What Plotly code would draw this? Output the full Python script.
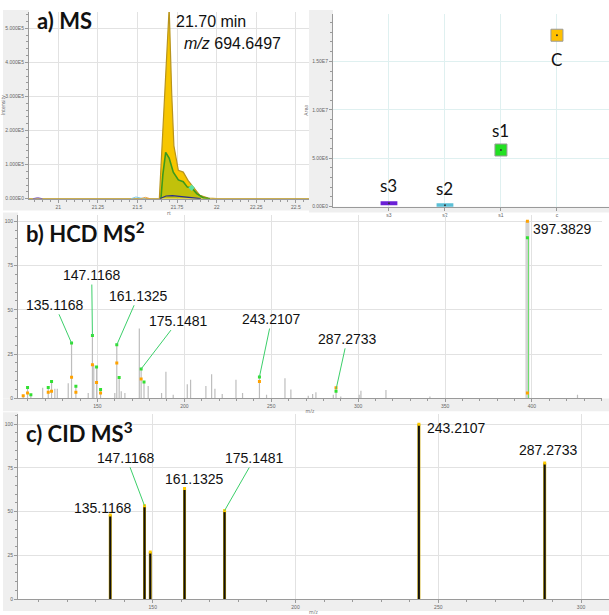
import plotly.graph_objects as go

W, H = 609, 615

# ---------- a) extracted ion chromatogram of m/z 694.6497 ----------
rt_gold = [20.80, 21.60, 21.638, 21.653, 21.674, 21.700, 21.716, 21.730, 21.758, 21.789,
           21.820, 21.852, 21.894, 21.947, 22.00, 22.60]
int_gold = [0, 0, 0, 1.36e5, 3.4e5, 5.6e5, 3.1e5, 1.55e5, 0.83e5, 0.78e5,
            0.53e5, 0.34e5, 0.10e5, 0.02e5, 0, 0]

rt_green = [21.648, 21.660, 21.678, 21.700, 21.726, 21.758, 21.789, 21.815, 21.842,
            21.874, 21.915, 21.958]
int_green = [0, 0.7e5, 1.36e5, 1.19e5, 0.78e5, 0.55e5, 0.50e5, 0.34e5, 0.32e5,
             0.15e5, 0.03e5, 0]

rt_blue = [21.64, 21.68, 21.72, 21.76, 21.80, 21.85, 21.90]
int_blue = [0, 0.08e5, 0.09e5, 0.07e5, 0.05e5, 0.03e5, 0]

rt_noise1 = [21.46, 21.49, 21.52, 21.55]
int_noise1 = [0, 0.05e5, 0.02e5, 0]
rt_noise2 = [21.52, 21.55, 21.58]
int_noise2 = [0, 0.04e5, 0]
rt_noise3 = [20.84, 20.87, 20.90]
int_noise3 = [0, 0.03e5, 0]

# ---------- a) peak area per sample ----------
samples = ["s3", "s2", "s1", "c"]
sample_labels = ["s3", "s2", "s1", "C"]
areas = [0.35e6, 0.15e6, 5.85e6, 1.77e7]
sample_colors = ["#6a1fd6", "#5bbfd6", "#22e022", "#ffc000"]

# ---------- b) HCD MS2 spectrum ----------
hcd_mz = [107.3, 109.8, 111.7, 118.5, 121.7, 123.6, 125.5, 126.9, 133.2, 135.1168,
          137.6, 144.7, 147.1168, 147.9, 149.5, 151.8, 160.0, 161.1325, 162.5, 163.7,
          165.8, 174.1, 175.1481, 176.8, 179.2, 186.9, 189.4, 193.6, 201.7, 203.6,
          212.4, 215.7, 217.6, 221.8, 229.7, 233.5, 243.2107, 247.3, 257.9, 261.3,
          271.3, 273.8, 275.7, 285.7, 287.2733, 290.0, 300.6, 301.6, 316.0, 341.3,
          397.3829, 426.2]
hcd_int = [1.5, 6.2, 2.5, 6.0, 6.2, 9.5, 5.5, 5.5, 8.5, 31.2,
           7.0, 3.0, 35.5, 19.0, 17.7, 5.0, 3.0, 30.2, 11.8, 4.0,
           3.0, 39.4, 16.6, 9.3, 7.0, 3.0, 15.0, 2.0, 8.0, 10.5,
           7.0, 13.6, 5.5, 2.5, 10.5, 3.0, 12.1, 2.0, 11.4, 5.0,
           1.5, 2.5, 3.4, 2.0, 5.0, 1.0, 2.0, 4.3, 4.7, 1.0,
           100.0, 2.0]
hcd_green_mz = [109.8, 111.7, 121.7, 123.6, 135.1168, 137.6, 147.1168, 149.5, 151.8,
                161.1325, 162.5, 175.1481, 176.8, 243.2107, 287.2733, 397.3829]
hcd_green_int = [6.2, 2.0, 6.2, 9.5, 31.2, 6.9, 35.5, 17.7, 5.0,
                 30.2, 11.8, 16.6, 9.3, 12.1, 4.0, 90.7]
hcd_orange_mz = [107.3, 109.8, 121.7, 123.6, 135.1168, 137.6, 147.1168, 149.5, 151.8,
                 161.1325, 175.1481, 243.2107, 287.2733, 397.3829, 397.3829]
hcd_orange_int = [1.5, 3.0, 3.5, 4.0, 12.0, 3.5, 19.0, 9.0, 3.0,
                  20.0, 11.0, 9.5, 6.0, 100.0, 3.0]
# labelled fragments and where their labels sit
hcd_labels = [135.1168, 147.1168, 161.1325, 175.1481, 243.2107, 287.2733]
hcd_label_mz = [125.5, 146.7, 173.5, 196.5, 250.2, 293.7]
hcd_label_int = [52.8, 69.6, 57.9, 43.9, 44.8, 33.6]
base_peak = 397.3829

# ---------- c) CID MS3 spectrum ----------
cid_mz = [135.1168, 147.1168, 149.13, 161.1325, 175.1481, 243.2107, 287.2733]
cid_int = [48.1, 53.4, 26.9, 63.2, 50.6, 100.0, 77.8]
cid_label_mz = [132.4, 140.8, 164.5, 185.7, 245.5, 288.6]
cid_label_int = [51.9, 80.8, 68.4, 80.7, 97.7, 85.0]


def px(x):
    return x / W


def py(y):
    return 1 - y / H


def sticks(xs, ys):
    sx, sy = [], []
    for x, y in zip(xs, ys):
        sx += [x, x, None]
        sy += [0, y, None]
    return sx, sy


fig = go.Figure()

# chromatogram traces
fig.add_trace(go.Scatter(x=rt_gold, y=int_gold, mode="lines", fill="tozeroy",
                         fillcolor="#f7c600", line=dict(color="#b8941c", width=1.2),
                         xaxis="x", yaxis="y"))
fig.add_trace(go.Scatter(x=rt_green, y=int_green, mode="lines", fill="tozeroy",
                         fillcolor="rgba(150,190,20,0.55)", line=dict(color="#3c9a1c", width=1.6),
                         xaxis="x", yaxis="y"))
fig.add_trace(go.Scatter(x=rt_blue, y=int_blue, mode="lines",
                         line=dict(color="#2b2f8c", width=1.2), xaxis="x", yaxis="y"))
for rx, ry, c in [(rt_noise1, int_noise1, "#7fc8e8"), (rt_noise2, int_noise2, "#e8a040"),
                  (rt_noise3, int_noise3, "#7a5cc8")]:
    fig.add_trace(go.Scatter(x=rx, y=ry, mode="lines", line=dict(color=c, width=1),
                             xaxis="x", yaxis="y"))
fig.add_trace(go.Scatter(x=[rt_green[8]], y=[int_green[8]], mode="markers",
                         marker=dict(symbol="diamond", size=5, color="#5fe0a0"),
                         xaxis="x", yaxis="y"))

# peak area per sample
for s, a, c in zip(samples, areas, sample_colors):
    if a > 2e6:
        mk = dict(symbol="square", size=12, color=c, line=dict(color="#9a9a9a", width=1))
    else:
        mk = dict(symbol="line-ew", size=12, line=dict(color=c, width=4))
    fig.add_trace(go.Scatter(x=[s], y=[a], mode="markers", marker=mk, xaxis="x2", yaxis="y2"))
    fig.add_trace(go.Scatter(x=[s], y=[a], mode="markers",
                             marker=dict(symbol="circle", size=2, color="#333"),
                             xaxis="x2", yaxis="y2"))

# HCD spectrum
sx, sy = sticks(hcd_mz, hcd_int)
fig.add_trace(go.Scatter(x=sx, y=sy, mode="lines", line=dict(color="#bdbdbd", width=1.2),
                         xaxis="x3", yaxis="y3"))
fig.add_trace(go.Scatter(x=[base_peak, base_peak], y=[0, 100], mode="lines",
                         line=dict(color="#d4d4d4", width=4), xaxis="x3", yaxis="y3"))
sx, sy = sticks([base_peak + 0.6], [hcd_green_int[-1]])
fig.add_trace(go.Scatter(x=sx, y=sy, mode="lines", line=dict(color="#66e066", width=1),
                         xaxis="x3", yaxis="y3"))
fig.add_trace(go.Scatter(x=hcd_orange_mz, y=hcd_orange_int, mode="markers",
                         marker=dict(symbol="square", size=3, color="#ffa200"),
                         xaxis="x3", yaxis="y3"))
fig.add_trace(go.Scatter(x=hcd_green_mz, y=hcd_green_int, mode="markers",
                         marker=dict(symbol="square", size=3, color="#33e033"),
                         xaxis="x3", yaxis="y3"))

# CID spectrum
sx, sy = sticks(cid_mz, cid_int)
fig.add_trace(go.Scatter(x=sx, y=sy, mode="lines", line=dict(color="#c9a400", width=3),
                         xaxis="x4", yaxis="y4"))
fig.add_trace(go.Scatter(x=sx, y=sy, mode="lines", line=dict(color="#111111", width=2),
                         xaxis="x4", yaxis="y4"))
fig.add_trace(go.Scatter(x=cid_mz, y=cid_int, mode="markers",
                         marker=dict(symbol="square", size=3, color="#ffcc00"),
                         xaxis="x4", yaxis="y4"))

grid = "#e2e2e2"
tickfont = dict(family="Liberation Sans", size=5, color="#666")
minor_tick = dict(ticks="outside", ticklen=2, tickcolor="#9a9a9a", showgrid=False)
common = dict(showline=True, linecolor="#9a9a9a", linewidth=1, gridcolor=grid, gridwidth=1,
              ticks="outside", ticklen=3, tickcolor="#9a9a9a", tickfont=tickfont,
              zeroline=False, showgrid=True, fixedrange=True)

fig.update_layout(
    width=W, height=H, margin=dict(l=0, r=0, t=0, b=0),
    paper_bgcolor="white", plot_bgcolor="white", showlegend=False,
    xaxis=dict(common, domain=[px(29), px(309)], range=[20.815, 22.583], anchor="y",
               tickvals=[21, 21.25, 21.5, 21.75, 22, 22.25, 22.5],
               ticktext=["21", "21.25", "21.5", "21.75", "22", "22.25", "22.5"],
               minor=dict(minor_tick, dtick=0.05),
               title=dict(text="rt", font=dict(size=5, color="#666"), standoff=1)),
    yaxis=dict(common, domain=[py(200), py(12)], range=[0, 5.48e5], anchor="x",
               tickvals=[0, 1e5, 2e5, 3e5, 4e5, 5e5],
               ticktext=["0.000E0", "1.000E5", "2.000E5", "3.000E5", "4.000E5", "5.000E5"],
               minor=dict(minor_tick, dtick=2e4),
               title=dict(text="Intensity", font=dict(size=5, color="#666"), standoff=2)),
    xaxis2=dict(common, domain=[px(333), 1], range=[-1.0, 3.93], anchor="y2", type="category",
                categoryorder="array", categoryarray=samples, gridcolor="#dff0f0"),
    yaxis2=dict(common, domain=[py(208), py(14)], range=[0, 1.99e7], anchor="x2",
                tickvals=[0, 5e6, 1e7, 1.5e7],
                ticktext=["0.00E0", "5.00E6", "1.00E7", "1.50E7"], gridcolor="#dff0f0",
                minor=dict(minor_tick, dtick=1e6),
                title=dict(text="Area", font=dict(size=5, color="#666"), standoff=3)),
    xaxis3=dict(common, domain=[px(18), px(602)], range=[104.3, 440.3], anchor="y3",
                tickvals=[150, 200, 250, 300, 350, 400],
                minor=dict(minor_tick, dtick=10),
                title=dict(text="m/z", font=dict(size=5, color="#666"), standoff=1)),
    yaxis3=dict(common, domain=[py(401), py(216)], range=[0, 103.7], anchor="x3",
                tickvals=[0, 25, 50, 75, 100],
                minor=dict(minor_tick, dtick=5)),
    xaxis4=dict(common, domain=[px(18), 1], range=[102.8, 309.8], anchor="y4",
                tickvals=[150, 200, 250, 300],
                minor=dict(minor_tick, dtick=10),
                title=dict(text="m/z", font=dict(size=5, color="#666"), standoff=1)),
    yaxis4=dict(common, domain=[py(603), py(417)], range=[0, 105.7], anchor="x4",
                tickvals=[0, 25, 50, 75, 100],
                minor=dict(minor_tick, dtick=5)),
)

# light grey frame areas around the plot panels
panel_bg = "#efefef"
rects = [(3, 10, 29, 200), (3, 200, 309, 212),
         (309, 10, 333, 208), (309, 208, 609, 214),
         (3, 214, 18, 401), (3, 401, 609, 414),
         (3, 415, 18, 603), (3, 603, 609, 615)]
for x0, y0, x1, y1 in rects:
    fig.add_shape(type="rect", xref="paper", yref="paper", x0=px(x0), x1=px(x1),
                  y0=py(y1), y1=py(y0), fillcolor=panel_bg, line=dict(width=0), layer="below")

title_font = dict(family="Lato", size=22, color="#111")
num_font = dict(family="Liberation Sans", size=14, color="#111")
ann = []
ann.append(dict(text="<b>a) MS</b>", x=px(35), y=py(21), xref="paper", yref="paper",
                xanchor="left", yanchor="middle", showarrow=False, font=title_font))
ann.append(dict(text="<b>b) HCD MS<sup>2</sup></b>", x=px(24), y=py(234), xref="paper", yref="paper",
                xanchor="left", yanchor="middle", showarrow=False, font=title_font))
ann.append(dict(text="<b>c) CID MS<sup>3</sup></b>", x=px(24), y=py(435), xref="paper", yref="paper",
                xanchor="left", yanchor="middle", showarrow=False, font=title_font))
ann.append(dict(text="21.70 min", x=21.70 + 0.03, y=5.2e5, xref="x", yref="y",
                xanchor="left", yanchor="middle", showarrow=False,
                font=dict(family="Liberation Sans", size=16, color="#111")))
ann.append(dict(text="<i>m/z</i> 694.6497", x=21.70 + 0.08, y=4.55e5, xref="x", yref="y",
                xanchor="left", yanchor="middle", showarrow=False,
                font=dict(family="Liberation Sans", size=16, color="#111")))

label_y = [2.19e6, 1.85e6, 7.9e6, 15.2e6]
for s, lab, ly in zip(samples, sample_labels, label_y):
    ann.append(dict(text=lab, x=s, y=ly, xref="x2", yref="y2", showarrow=False,
                    font=dict(family="Lato", size=17, color="#111")))

green = "#3ccf6a"
for mz, lx, ly in zip(hcd_labels, hcd_label_mz, hcd_label_int):
    top = hcd_int[hcd_mz.index(mz)]
    ann.append(dict(text=f"{mz:.4f}", x=mz, y=top, ax=lx, ay=ly, xref="x3", yref="y3",
                    axref="x3", ayref="y3", showarrow=True, arrowhead=0, arrowwidth=1,
                    arrowcolor=green, standoff=0, font=num_font))
ann.append(dict(text=f"{base_peak:.4f}", x=base_peak + 2.0, y=95.8, xref="x3", yref="y3",
                xanchor="left", showarrow=False, font=num_font))

cid_arrows = [False, True, False, True, False, False]
for i, (mz, lx, ly) in enumerate(zip(cid_mz[:2] + cid_mz[3:], cid_label_mz, cid_label_int)):
    top = cid_int[cid_mz.index(mz)]
    if cid_arrows[i]:
        ann.append(dict(text=f"{mz:.4f}", x=mz, y=top, ax=lx, ay=ly, xref="x4", yref="y4",
                        axref="x4", ayref="y4", showarrow=True, arrowhead=0, arrowwidth=1,
                        arrowcolor=green, standoff=0, font=num_font))
    else:
        anchor = "left" if mz == 243.2107 else "center"
        ann.append(dict(text=f"{mz:.4f}", x=lx, y=ly, xref="x4", yref="y4", xanchor=anchor,
                        showarrow=False, font=num_font))

fig.update_layout(annotations=ann)
fig.write_html("out.html")
